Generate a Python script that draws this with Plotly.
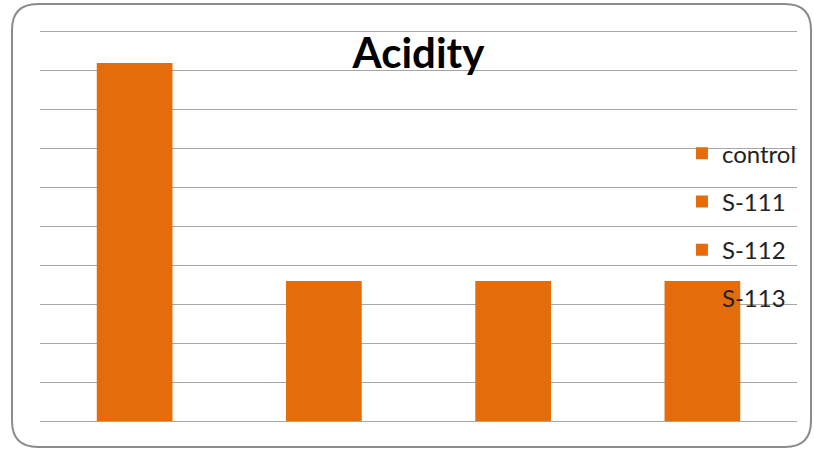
import plotly.graph_objects as go

categories = ["control", "S-111", "S-112", "S-113"]
values = [9.2, 3.6, 3.6, 3.6]
bar_color = "#E46C0A"

W, H = 814, 449
L, R, T, B = 40, 797, 32, 421  # plot area in page pixels
grid = "#a6a6a6"

fig = go.Figure()
for c, v in zip(categories, values):
    fig.add_trace(go.Bar(
        x=[c], y=[v], name=c, legendgroup=c,
        marker=dict(color=bar_color, line=dict(width=0)),
        width=0.4,
    ))

fig.update_layout(
    width=W, height=H,
    margin=dict(l=L, r=W - R, t=T, b=H - B),
    paper_bgcolor="white", plot_bgcolor="white",
    barmode="overlay",
    font=dict(family="Lato, 'Open Sans', sans-serif", color="#222"),
    title=dict(text="<b>Acidity</b>", x=0.5, xref="paper", xanchor="center",
               y=1 - 53 / H, yref="container", yanchor="middle",
               font=dict(size=42, color="#000")),
    showlegend=True,
    legend=dict(x=0.848, xanchor="left", y=0.745, yanchor="top",
                bgcolor="rgba(0,0,0,0)", font=dict(size=24, color="#222"),
                tracegroupgap=14, itemclick=False),
    xaxis=dict(showticklabels=False, showgrid=False, showline=True, mirror=True,
               linecolor=grid, linewidth=1.3, ticks="", zeroline=False),
    yaxis=dict(range=[0, 10], dtick=1, showticklabels=False, showgrid=True,
               gridcolor=grid, gridwidth=1.3, zeroline=True,
               zerolinecolor=grid, zerolinewidth=1.3, ticks=""),
)


def px(x):
    return (x - L) / (R - L)


def py(y):
    return (B - y) / (B - T)


bx0, bx1, by0, by1, r = 12, 811, 4, 447, 26
path = (
    f"M {px(bx0 + r)},{py(by0)} L {px(bx1 - r)},{py(by0)} "
    f"Q {px(bx1)},{py(by0)} {px(bx1)},{py(by0 + r)} "
    f"L {px(bx1)},{py(by1 - r)} Q {px(bx1)},{py(by1)} {px(bx1 - r)},{py(by1)} "
    f"L {px(bx0 + r)},{py(by1)} Q {px(bx0)},{py(by1)} {px(bx0)},{py(by1 - r)} "
    f"L {px(bx0)},{py(by0 + r)} Q {px(bx0)},{py(by0)} {px(bx0 + r)},{py(by0)} Z"
)
fig.add_shape(type="path", xref="paper", yref="paper", layer="above",
              path=path, line=dict(color="#8c8c8c", width=2))

fig.write_html("out.html", config={"displayModeBar": False},
               post_script="document.body.style.margin='0px';")
